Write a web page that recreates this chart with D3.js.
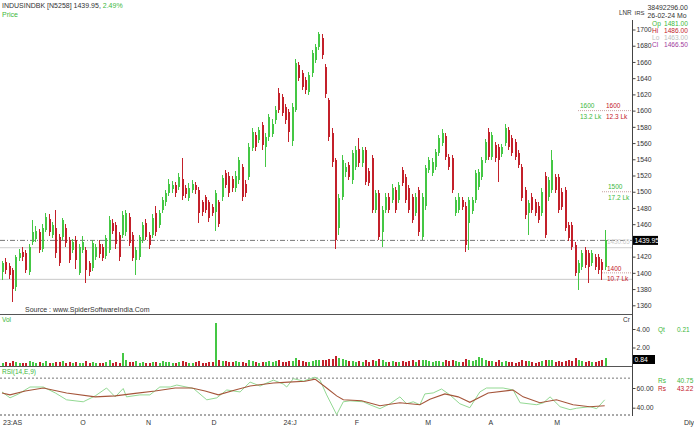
<!DOCTYPE html>
<html><head><meta charset="utf-8">
<script src="https://cdn.jsdelivr.net/npm/d3@7"></script>
<style>body{margin:0;background:#fff}svg{display:block;font-family:"Liberation Sans",Arial,sans-serif}</style>
</head><body><svg id="c" width="694" height="427"></svg>
<script>
const opens=[1401,1413,1409,1403,1383,1418,1426,1424,1401,1438,1442,1450,1430,1453,1467,1447,1455,1444,1444,1455,1440,1428,1440,1400,1428,1428,1412,1406,1420,1436,1432,1421,1428,1462,1459,1447,1447,1450,1469,1447,1416,1420,1441,1462,1447,1447,1474,1459,1478,1487,1499,1503,1508,1506,1516,1504,1492,1502,1508,1502,1487,1493,1487,1481,1475,1487,1493,1523,1520,1516,1505,1514,1530,1510,1518,1554,1570,1564,1582,1555,1567,1571,1588,1622,1617,1604,1598,1562,1601,1656,1646,1638,1623,1646,1663,1679,1690,1654,1613,1573,1539,1455,1494,1524,1533,1515,1531,1553,1535,1551,1525,1541,1478,1498,1450,1478,1494,1490,1502,1490,1527,1518,1504,1494,1474,1502,1444,1482,1527,1523,1531,1548,1560,1569,1543,1541,1474,1478,1490,1483,1462,1476,1490,1506,1518,1539,1574,1543,1557,1555,1547,1560,1576,1566,1561,1548,1530,1502,1474,1494,1487,1483,1474,1520,1493,1502,1518,1518,1500,1502,1459,1459,1434,1400,1407,1428,1424,1412,1419,1419,1413,1407];
const highs=[1415,1418,1412,1406,1422,1430,1432,1428,1436,1465,1458,1454,1460,1474,1472,1463,1478,1448,1468,1460,1444,1442,1446,1436,1445,1432,1415,1440,1436,1440,1436,1447,1470,1467,1463,1450,1476,1478,1474,1450,1432,1447,1463,1466,1450,1472,1482,1478,1494,1502,1516,1513,1512,1523,1541,1508,1511,1514,1512,1506,1490,1496,1490,1485,1502,1490,1521,1527,1524,1520,1525,1543,1534,1514,1560,1578,1574,1580,1586,1572,1596,1590,1606,1628,1621,1608,1602,1610,1664,1660,1650,1642,1648,1675,1682,1697,1694,1658,1616,1578,1542,1497,1545,1536,1537,1552,1556,1566,1555,1555,1529,1545,1502,1502,1482,1498,1498,1509,1506,1512,1530,1522,1508,1497,1498,1506,1498,1533,1543,1541,1553,1570,1577,1573,1547,1545,1494,1498,1494,1487,1494,1494,1527,1528,1543,1565,1578,1574,1561,1559,1559,1583,1580,1570,1565,1552,1534,1506,1490,1498,1491,1487,1504,1524,1518,1552,1522,1522,1504,1506,1463,1463,1438,1416,1428,1432,1428,1428,1423,1423,1417,1453];
const lows=[1391,1398,1392,1364,1378,1414,1414,1400,1397,1434,1438,1424,1426,1450,1446,1443,1418,1408,1440,1432,1412,1424,1405,1397,1424,1388,1396,1402,1416,1418,1414,1417,1424,1448,1430,1415,1443,1446,1433,1414,1397,1416,1437,1440,1430,1443,1446,1455,1474,1483,1495,1499,1494,1502,1490,1492,1488,1498,1497,1462,1470,1474,1463,1470,1452,1456,1489,1504,1494,1500,1500,1510,1489,1494,1514,1550,1550,1560,1552,1531,1563,1567,1584,1597,1593,1584,1561,1556,1598,1636,1625,1620,1619,1642,1659,1675,1664,1615,1562,1530,1430,1447,1490,1518,1514,1510,1527,1531,1530,1508,1507,1474,1474,1440,1432,1474,1474,1486,1474,1486,1507,1486,1474,1461,1470,1446,1440,1478,1523,1519,1527,1544,1556,1539,1527,1498,1470,1474,1477,1426,1428,1472,1486,1502,1514,1535,1539,1539,1537,1512,1543,1556,1551,1544,1539,1529,1488,1467,1447,1474,1470,1461,1470,1443,1489,1498,1498,1474,1477,1451,1439,1428,1396,1379,1403,1406,1387,1408,1403,1399,1391,1403];
const closes=[1412,1403,1397,1380,1419,1424,1420,1404,1432,1450,1452,1428,1455,1469,1450,1459,1425,1412,1465,1437,1416,1438,1416,1432,1438,1404,1401,1437,1432,1423,1418,1443,1465,1452,1435,1420,1471,1474,1437,1418,1428,1444,1459,1444,1434,1468,1450,1474,1490,1498,1510,1508,1498,1518,1495,1497,1505,1509,1502,1474,1475,1478,1468,1474,1499,1460,1517,1508,1498,1505,1520,1539,1493,1498,1555,1574,1555,1576,1557,1567,1592,1583,1601,1601,1597,1588,1574,1605,1659,1640,1629,1625,1644,1671,1678,1694,1668,1620,1568,1537,1440,1492,1539,1531,1518,1548,1551,1535,1551,1512,1511,1478,1498,1444,1478,1494,1478,1505,1478,1508,1511,1490,1478,1465,1494,1450,1494,1529,1539,1537,1549,1566,1572,1543,1531,1502,1490,1494,1481,1434,1490,1490,1523,1524,1539,1561,1543,1570,1541,1539,1555,1579,1555,1548,1543,1533,1492,1471,1486,1478,1474,1465,1500,1447,1514,1539,1502,1478,1481,1455,1443,1432,1400,1412,1424,1410,1407,1424,1407,1403,1403,1440];
const volumes=[0.35,0.4,0.3,0.55,0.45,0.3,0.35,0.3,0.5,0.45,0.35,0.4,0.3,0.5,0.35,0.3,0.45,0.4,0.5,0.35,0.4,0.3,0.45,0.35,0.3,0.5,0.35,0.4,0.3,0.35,0.3,0.45,0.6,0.35,0.4,0.3,1.45,0.7,0.45,0.4,0.55,0.35,0.4,0.3,0.35,0.45,0.4,0.35,0.5,0.45,0.4,0.35,0.3,0.45,0.55,0.4,0.35,0.3,0.4,0.5,0.35,0.3,0.45,0.4,4.65,0.6,0.55,0.5,0.45,0.4,0.5,0.45,0.4,0.35,0.6,0.55,0.4,0.35,0.45,0.4,0.5,0.45,0.55,0.6,0.4,0.45,0.5,0.55,0.9,0.6,0.5,0.45,0.4,0.55,0.6,0.65,0.7,0.6,0.8,0.75,1.1,0.9,0.8,0.6,0.5,0.55,0.45,0.5,0.4,0.6,0.45,0.7,0.5,0.75,0.6,0.45,0.4,0.5,0.45,0.4,0.5,0.45,0.55,0.6,0.4,0.7,0.65,0.6,0.5,0.45,0.5,0.55,0.45,0.6,0.5,0.65,0.55,0.45,0.4,0.8,0.7,0.55,0.6,1.0,0.85,0.6,0.5,0.55,0.45,0.6,0.4,0.5,0.45,0.4,0.35,0.45,0.6,0.55,0.5,0.4,0.35,0.4,0.55,0.7,0.6,0.65,0.45,0.5,0.4,0.55,0.6,0.55,0.9,0.6,0.5,0.45,0.55,0.4,0.45,0.5,0.6,0.84];
const rsiIdx=[0,2.4,5,8.4,12.4,16,19.4,24.4,28,31.4,34,36.4,37.4,41.4,44.4,47.4,50.5,52.5,57.5,61.5,64.5,67.5,71.5,74.5,77.5,81.5,84.5,85.5,87.5,90.5,94,95.5,97.5,100.5,102.5,104.5,108.5,110.5,113.5,116.5,119.5,121.5,123.5,125.5,127,129.5,132,134.5,137.5,140.5,143.5,145.5,150.5,153.5,155.6,160.6,162.6,164.6,167.6,170.6,172.6,176.6,178.6,181];
const rsiVal=[56,50,54,61,61,55,48,46,52,60,51,59.5,51,53,53,61,61,63,59.5,48,50,58,56,66,62,68,64,61,69.5,67,71,68,53,33,46,47,46,43,39,44,51,44,46,43,54,55,59,53,44,40,56,60,60,58,45,43,45,51,41,38,39.5,41,39,48];
const sigIdx=[0,2.4,7,12.4,19.4,28,34,40,46,52,57,61,65,70,74.5,81.5,86,91,94,97.5,100.5,102.5,108,113.5,119.5,125.5,128.5,133,137,140.5,146,153.5,156.5,161.5,166.5,171.5,176.5,181];
const sigVal=[55,53,57,60,55,51,52,54.5,57,60,60,57,53,58,62,65,66,66.8,69,60,52,48,47,42,45,43,48.5,54,51,45.5,55,58,51,45,48,43,41,42];
const priceTicks=[1360,1380,1400,1420,1460,1480,1500,1520,1540,1560,1580,1600,1620,1640,1660,1680,1700];
const volTicks=[2,4];
const rsiTicks=[40,60];
const monthLabels=["O","N","D","24:J","F","M","A","M"];
const monthIdx=[24.3,44,63.7,86.5,106.6,128,146.8,166.7];
const firstLabel="23:AS";
const levelLines=[1440,1431,1392];

const GREEN="#44c744",RED="#c3202a",TXT="#333",GTXT="#3db83d";
const svg=d3.select("#c");
svg.append("rect").attr("width",694).attr("height",427).attr("fill","#fff");
const n=closes.length;
const x=d3.scaleLinear().domain([0,n-1]).range([2,604.7]);
const py=d3.scaleLinear().domain([1360,1700]).range([305.3,29.5]);
const vy=d3.scaleLinear().domain([0,4]).range([366,329]);
const ry=d3.scaleLinear().domain([40,60]).range([407.7,388]);
const AX=632.5;

const g=svg.append("g");
g.append("line").attr("x1",0).attr("x2",AX).attr("y1",py(levelLines[2])).attr("y2",py(levelLines[2])).attr("stroke","#c8c8c8");
g.append("line").attr("x1",0).attr("x2",AX).attr("y1",py(levelLines[1])).attr("y2",py(levelLines[1])).attr("stroke","#cfcfcf");
g.append("line").attr("x1",0).attr("x2",AX).attr("y1",py(levelLines[0])).attr("y2",py(levelLines[0])).attr("stroke","#555").attr("stroke-dasharray","5,2,1,2").attr("stroke-width",0.8);

function lvl(p,x1,labels){
  g.append("line").attr("x1",x1).attr("x2",AX).attr("y1",py(p)).attr("y2",py(p)).attr("stroke","#b88").attr("stroke-dasharray","1,1").attr("stroke-width",0.8);
  labels.forEach(l=>g.append("text").attr("x",l[0]).attr("y",py(p)+l[1]).attr("fill",l[3]).attr("font-size",6.5).text(l[2]));
}
lvl(1600,578,[[580,-3,"1600",GTXT],[606,-3,"1600",RED],[580,8,"13.2 Lk",GTXT],[606,8,"12.3 Lk",RED]]);
lvl(1500,602,[[608,-2.5,"1500",GTXT],[608,8.5,"17.2 Lk",GTXT]]);
lvl(1400,602,[[607,-2,"1400",RED],[607,8,"10.7 Lk",RED]]);
g.append("text").attr("x",607).attr("y",py(1431)-3.5).attr("fill","#ccc").attr("font-size",6.3).text("1430.65");

const cg=svg.append("g").attr("shape-rendering","crispEdges");
d3.range(n).forEach(i=>{
  const up=closes[i]>=opens[i], col=up?GREEN:RED, cx=Math.round(x(i));
  cg.append("line").attr("x1",cx+0.5).attr("x2",cx+0.5).attr("y1",py(highs[i])).attr("y2",py(lows[i])).attr("stroke",col).attr("stroke-width",1);
  const y0=py(Math.max(opens[i],closes[i])), y1=py(Math.min(opens[i],closes[i]));
  cg.append("rect").attr("x",cx).attr("width",2).attr("y",y0).attr("height",Math.max(1,y1-y0)).attr("fill",col);
  cg.append("rect").attr("x",cx).attr("width",2).attr("y",vy(volumes[i])).attr("height",vy(0)-vy(volumes[i])).attr("fill",col);
});

svg.append("line").attr("x1",0).attr("x2",AX).attr("y1",314.5).attr("y2",314.5).attr("stroke","#555");
svg.append("line").attr("x1",0).attr("x2",AX).attr("y1",366.5).attr("y2",366.5).attr("stroke","#555");
svg.append("line").attr("x1",0).attr("x2",AX).attr("y1",ry(70)).attr("y2",ry(70)).attr("stroke","#777").attr("stroke-dasharray","2,2");
svg.append("line").attr("x1",0).attr("x2",AX).attr("y1",415).attr("y2",415).attr("stroke","#555").attr("stroke-dasharray","2,2");

const rl=d3.line().x(d=>x(d[0])).y(d=>ry(d[1]));
svg.append("path").attr("d",rl(rsiIdx.map((v,k)=>[v,rsiVal[k]]))).attr("fill","none").attr("stroke","#93d993").attr("stroke-width",1);
svg.append("path").attr("d",rl(sigIdx.map((v,k)=>[v,sigVal[k]]))).attr("fill","none").attr("stroke","#a5553a").attr("stroke-width",1.1);

svg.append("line").attr("x1",AX).attr("x2",AX).attr("y1",20).attr("y2",416).attr("stroke","#444");
function rax(scale,ticks,fmt){
  const a=svg.append("g").attr("transform",`translate(${AX},0)`).call(d3.axisRight(scale).tickValues(ticks).tickSize(3).tickPadding(1).tickFormat(fmt));
  a.select(".domain").remove();
  a.selectAll("text").attr("fill",TXT).attr("font-size",6.8).attr("font-family","Liberation Sans, Arial");
  a.selectAll("line").attr("stroke","#444");
}
rax(py,priceTicks,d=>d);
rax(vy,volTicks,d3.format(".2f"));
rax(ry,rsiTicks,d3.format(".2f"));

function box(yc,w,t){
  svg.append("rect").attr("x",AX+0.5).attr("y",yc-4.5).attr("width",w).attr("height",9).attr("fill","#000");
  svg.append("text").attr("x",AX+2).attr("y",yc+2.5).attr("fill","#fff").attr("font-size",6.8).text(t);
}
box(py(closes[n-1]),25,"1439.95");
box(359.5,22,volumes[n-1].toFixed(2));

const bt=svg.append("g").attr("font-size",7).attr("fill",TXT);
bt.append("text").attr("x",3).attr("y",424.5).text(firstLabel);
monthLabels.forEach((m,k)=>bt.append("text").attr("x",x(monthIdx[k])).attr("y",424.5).attr("text-anchor","middle").text(m));
bt.append("text").attr("x",684).attr("y",424.5).text("Dly");

const h=svg.append("text").attr("x",2).attr("y",7.5).attr("font-size",7).attr("fill",TXT);
h.append("tspan").text("INDUSINDBK [N5258] 1439.95, ");
h.append("tspan").attr("fill",GTXT).text(" 2.49%");
svg.append("text").attr("x",2).attr("y",17).attr("font-size",7).attr("fill",GTXT).text("Price");
svg.append("text").attr("x",25).attr("y",311.5).attr("font-size",7).attr("fill",TXT).text("Source : www.SpiderSoftwareIndia.Com");
svg.append("text").attr("x",2).attr("y",322).attr("font-size",6.5).attr("fill",GTXT).text("Vol");
svg.append("text").attr("x",623).attr("y",321.5).attr("font-size",6.5).attr("fill",TXT).text("Cr");
svg.append("text").attr("x",2).attr("y",373.5).attr("font-size",6.5).attr("fill",GTXT).text("RSI(14,E,9)");
svg.append("text").attr("x",619).attr("y",15).attr("font-size",6.3).attr("fill",TXT).text("LNR");
svg.append("text").attr("x",634.5).attr("y",15).attr("font-size",6).attr("fill",TXT).text("IRS");

const info=[["","38492296.00",TXT,9.5],["","26-02-24 Mo",TXT,17.5],["Op","1481.00",GTXT,25.5],["Hi","1486.00",RED,32.5],["Lo","1463.00","#bdbdbd",39.5],["Cl","1466.50","#a13a9c",46.5]];
info.forEach(r=>{
  if(r[0]){svg.append("text").attr("x",652).attr("y",r[3]).attr("font-size",6.6).attr("fill",r[2]).text(r[0]);
    svg.append("text").attr("x",664).attr("y",r[3]).attr("font-size",6.6).attr("fill",r[2]).text(r[1]);}
  else svg.append("text").attr("x",647.5).attr("y",r[3]).attr("font-size",6.9).attr("fill",r[2]).text(r[1]);
});
const side=[["Qt","0.21",GTXT,331.5],["Rs","40.75",GTXT,382.5],["Rs","43.22",RED,390.5]];
side.forEach(r=>{
  svg.append("text").attr("x",658).attr("y",r[3]).attr("font-size",6.5).attr("fill",r[2]).text(r[0]);
  svg.append("text").attr("x",677).attr("y",r[3]).attr("font-size",6.5).attr("fill",r[2]).text(r[1]);
});
</script></body></html>
